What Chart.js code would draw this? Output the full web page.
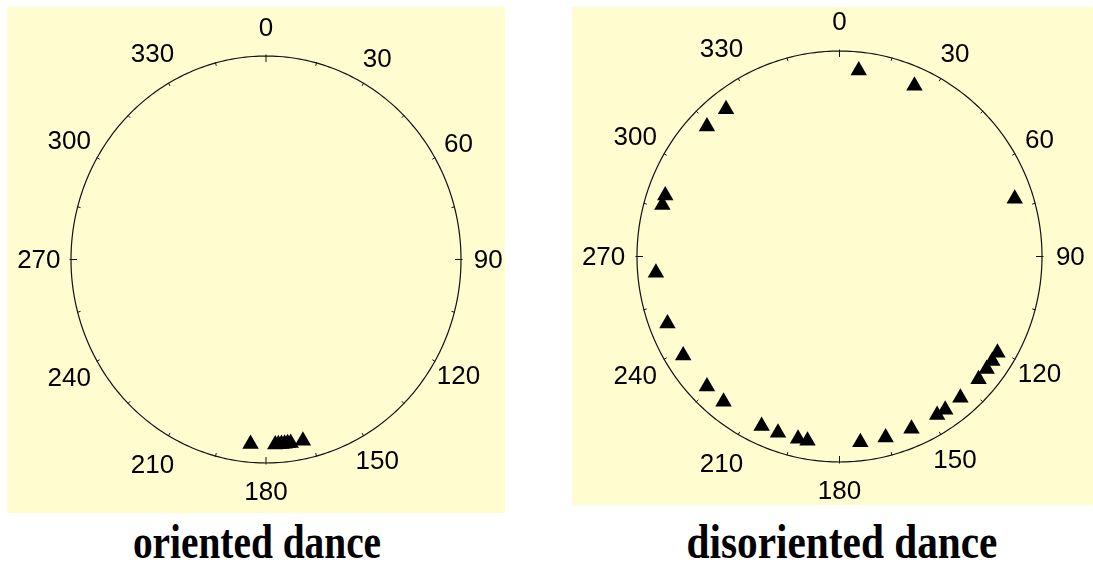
<!DOCTYPE html>
<html>
<head>
<meta charset="utf-8">
<script src="https://cdn.jsdelivr.net/npm/chart.js@4"></script>
<style>
  html, body { margin: 0; padding: 0; background: #fff; }
  body { width: 1093px; height: 568px; position: relative; overflow: hidden; }
  .panel { position: absolute; background: #fffccf; }
  .panel canvas { display: block; }
  .caption {
    position: absolute; top: 514px; width: 500px; text-align: center;
    font: bold 48px "Liberation Serif", "Times New Roman", serif; color: #000;
    transform: scaleX(0.82); white-space: nowrap; line-height: 56px;
  }
</style>
</head>
<body>
<div class="panel" style="left:7px;top:7px;width:498px;height:506px">
  <canvas id="oriented" width="498" height="506"></canvas>
</div>
<div class="panel" style="left:572px;top:7px;width:521px;height:498px">
  <canvas id="disoriented" width="521" height="498"></canvas>
</div>
<div class="caption" style="left:7px">oriented dance</div>
<div class="caption" style="left:592px;transform:scaleX(0.86)">disoriented dance</div>

<script>
// compass ticks and labels (degrees, clockwise from top)
const tickAngles = [0, 30, 60, 90, 120, 150, 180, 210, 240, 270, 300, 330];
const tickLabels = ["0", "30", "60", "90", "120", "150", "180", "210", "240", "270", "300", "330"];

// dance directions (degrees)
const orientedAngles = [185, 177, 176, 175, 174, 173, 172, 168];
const disorientedAngles = [6, 24, 72, 121, 124, 127, 131, 139, 145, 148, 157, 165.5, 173.5,
  190, 193, 199.5, 205, 219, 226, 238, 249, 265, 286, 289, 314, 322];

const MARK_R = 0.91;
const rad = d => d * Math.PI / 180;

function toPoints(angles) {
  return angles.map(a => ({ x: MARK_R * Math.sin(rad(a)), y: MARK_R * Math.cos(rad(a)) }));
}

// draws the circle, ticks and angle labels through the x/y scales
const compassPlugin = {
  id: 'compass',
  beforeDatasetsDraw(chart) {
    const { ctx, scales: { x, y } } = chart;
    const px = (u, v) => [x.getPixelForValue(u), y.getPixelForValue(v)];
    const [cx, cy] = px(0, 0);

    ctx.save();
    ctx.strokeStyle = '#111';
    ctx.lineWidth = 1.2;

    // outer circle
    ctx.beginPath();
    for (let i = 0; i <= 360; i++) {
      const [sx, sy] = px(Math.sin(rad(i)), Math.cos(rad(i)));
      if (i === 0) ctx.moveTo(sx, sy); else ctx.lineTo(sx, sy);
    }
    ctx.closePath();
    ctx.stroke();

    // ticks every 15 degrees, longer on the quarters
    ctx.lineWidth = 1;
    for (let a = 0; a < 360; a += 15) {
      const [sx, sy] = px(Math.sin(rad(a)), Math.cos(rad(a)));
      const dx = sx - cx, dy = sy - cy;
      const len = Math.hypot(dx, dy);
      const ux = dx / len, uy = dy / len;
      const inner = a % 90 === 0 ? 6 : 3;
      const outer = a % 90 === 0 ? 1.5 : 0.5;
      ctx.beginPath();
      ctx.moveTo(sx - ux * inner, sy - uy * inner);
      ctx.lineTo(sx + ux * outer, sy + uy * outer);
      ctx.stroke();
    }

    // angle labels
    ctx.fillStyle = '#000';
    ctx.font = '26px "Liberation Sans", Arial, sans-serif';
    ctx.textAlign = 'center';
    ctx.textBaseline = 'middle';
    tickAngles.forEach((a, i) => {
      const r = 1.14 + (a > 180 ? 0.025 : 0);
      const [lx, ly] = px(r * Math.sin(rad(a)), r * Math.cos(rad(a)));
      ctx.fillText(tickLabels[i], lx, ly + 1);
    });
    ctx.restore();
  }
};

function makeChart(id, angles, padding) {
  const ctx = document.getElementById(id).getContext('2d');
  return new Chart(ctx, {
    type: 'scatter',
    data: {
      datasets: [{
        data: toPoints(angles),
        pointStyle: 'triangle',
        pointRadius: 9.5,
        backgroundColor: '#000',
        borderColor: '#000',
        borderWidth: 0,
        clip: false
      }]
    },
    options: {
      responsive: false,
      animation: false,
      devicePixelRatio: 1,
      events: [],
      layout: { padding },
      plugins: { legend: { display: false }, tooltip: { enabled: false } },
      scales: {
        x: { type: 'linear', min: -1, max: 1, display: false },
        y: { type: 'linear', min: -1, max: 1, display: false }
      }
    },
    plugins: [compassPlugin]
  });
}

makeChart('oriented', orientedAngles, { left: 64, right: 44, top: 49, bottom: 50 });
makeChart('disoriented', disorientedAngles, { left: 65, right: 51, top: 44, bottom: 43 });
</script>
</body>
</html>
